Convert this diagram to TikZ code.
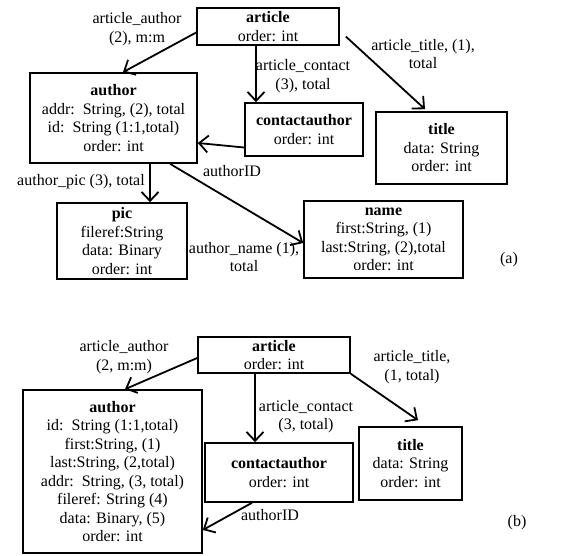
\documentclass[tikz,border=0pt]{standalone}
\usepackage{fontspec}
\setmainfont{Liberation Serif}
\usetikzlibrary{arrows.meta}
\begin{document}
\begin{tikzpicture}[x=1pt,y=-1pt,
  every node/.style={font=\fontsize{16}{18.5}\selectfont, align=center, inner sep=0pt},
  box/.style={draw, line width=1.6pt},
  arr/.style={line width=1.8pt, -{Straight Barb[length=9pt,width=17pt,line width=1.8pt]}},
  lbl/.style={}]
\useasboundingbox (0,0) rectangle (573,556);
% ---------- panel (a) ----------
\node[box, minimum width=142pt, minimum height=37pt] (arta) at (268,26.5) {\textbf{article}\\order: int};
\node[box, minimum width=167pt, minimum height=90pt] (aua) at (113.5,118) {\textbf{author}\\addr:\ \ String, (2), total\\id:\ \ String (1:1,total)\\order: int};
\node[box, minimum width=118pt, minimum height=53pt] (cona) at (304,129.5) {\textbf{contactauthor}\\order: int};
\node[box, minimum width=131pt, minimum height=72pt] (tia) at (441.5,148) {\textbf{title}\\data: String\\order: int};
\node[box, minimum width=130pt, minimum height=76pt] (pica) at (122,241) {\textbf{pic}\\fileref:String\\data: Binary\\order: int};
\node[box, minimum width=159pt, minimum height=77pt] (namea) at (383.5,239.5) {\textbf{name}\\first:String, (1)\\last:String, (2),total\\order: int};
\node (la) at (509,260) {(a)};

\draw[arr] ([yshift=-6pt]arta.west) -- ([xshift=9.5pt]aua.north);
\node[lbl] (l1a) at (137,29) {article\_author\\(2), m:m};
\draw[arr] ([xshift=-12pt]arta.south) -- ([xshift=-48pt]cona.north);
\node[lbl] (l2a) at (303,76) {article\_contact\\(3), total};
\draw[arr] ([shift={(6pt,-10pt)}]arta.east) -- ([shift={(-16.5pt,2pt)}]tia.north);
\node[lbl] (l3a) at (423,54) {article\_title, (1),\\total};
\draw[arr] ([yshift=-18pt]cona.west) -- ([yshift=-25pt]aua.east);
\node[lbl] (l4a) at (232,171) {authorID};
\draw[arr] ([xshift=36.5pt]aua.south) -- ([xshift=28pt]pica.north);
\node[lbl] (l5a) at (81,182) {author\_pic (3), total};
\draw[arr] ([xshift=56.5pt]aua.south) -- ([yshift=-3.5pt]namea.west);
\node[lbl] (l6a) at (244,257) {author\_name (1),\\total};

% ---------- panel (b) ----------
\node[box, minimum width=152pt, minimum height=36pt] (artb) at (274,355) {\textbf{article}\\order: int};
\node[box, minimum width=179pt, minimum height=163pt] (aub) at (112.5,471.5) {\textbf{author}\\id:\ \ String (1:1,total)\\first:String, (1)\\last:String, (2,total)\\addr:\ \ String, (3, total)\\fileref: String (4)\\data: Binary, (5)\\order: int};
\node[box, minimum width=148pt, minimum height=59pt] (conb) at (279,472.5) {\textbf{contactauthor}\\order: int};
\node[box, minimum width=103pt, minimum height=73pt] (tib) at (410.5,463.5) {\textbf{title}\\data: String\\order: int};
\node (lb) at (517,523) {(b)};

\draw[arr] ([yshift=-3pt]artb.west) -- ([xshift=12.5pt]aub.north);
\node[lbl] (l1b) at (124,357) {article\_author\\(2, m:m)};
\draw[arr] ([xshift=-19pt]artb.south) -- ([xshift=-24pt]conb.north);
\node[lbl] (l2b) at (306,416.5) {article\_contact\\(3, total)};
\draw[arr] (artb.south east) -- ([shift={(7.5pt,6pt)}]tib.north);
\node[lbl] (l3b) at (412,367) {article\_title,\\(1, total)};
\draw[arr] ([xshift=-27pt]conb.south) -- ([yshift=-58.5pt]aub.east);
\node[lbl] (l4b) at (270,515) {authorID};
\end{tikzpicture}
\end{document}
